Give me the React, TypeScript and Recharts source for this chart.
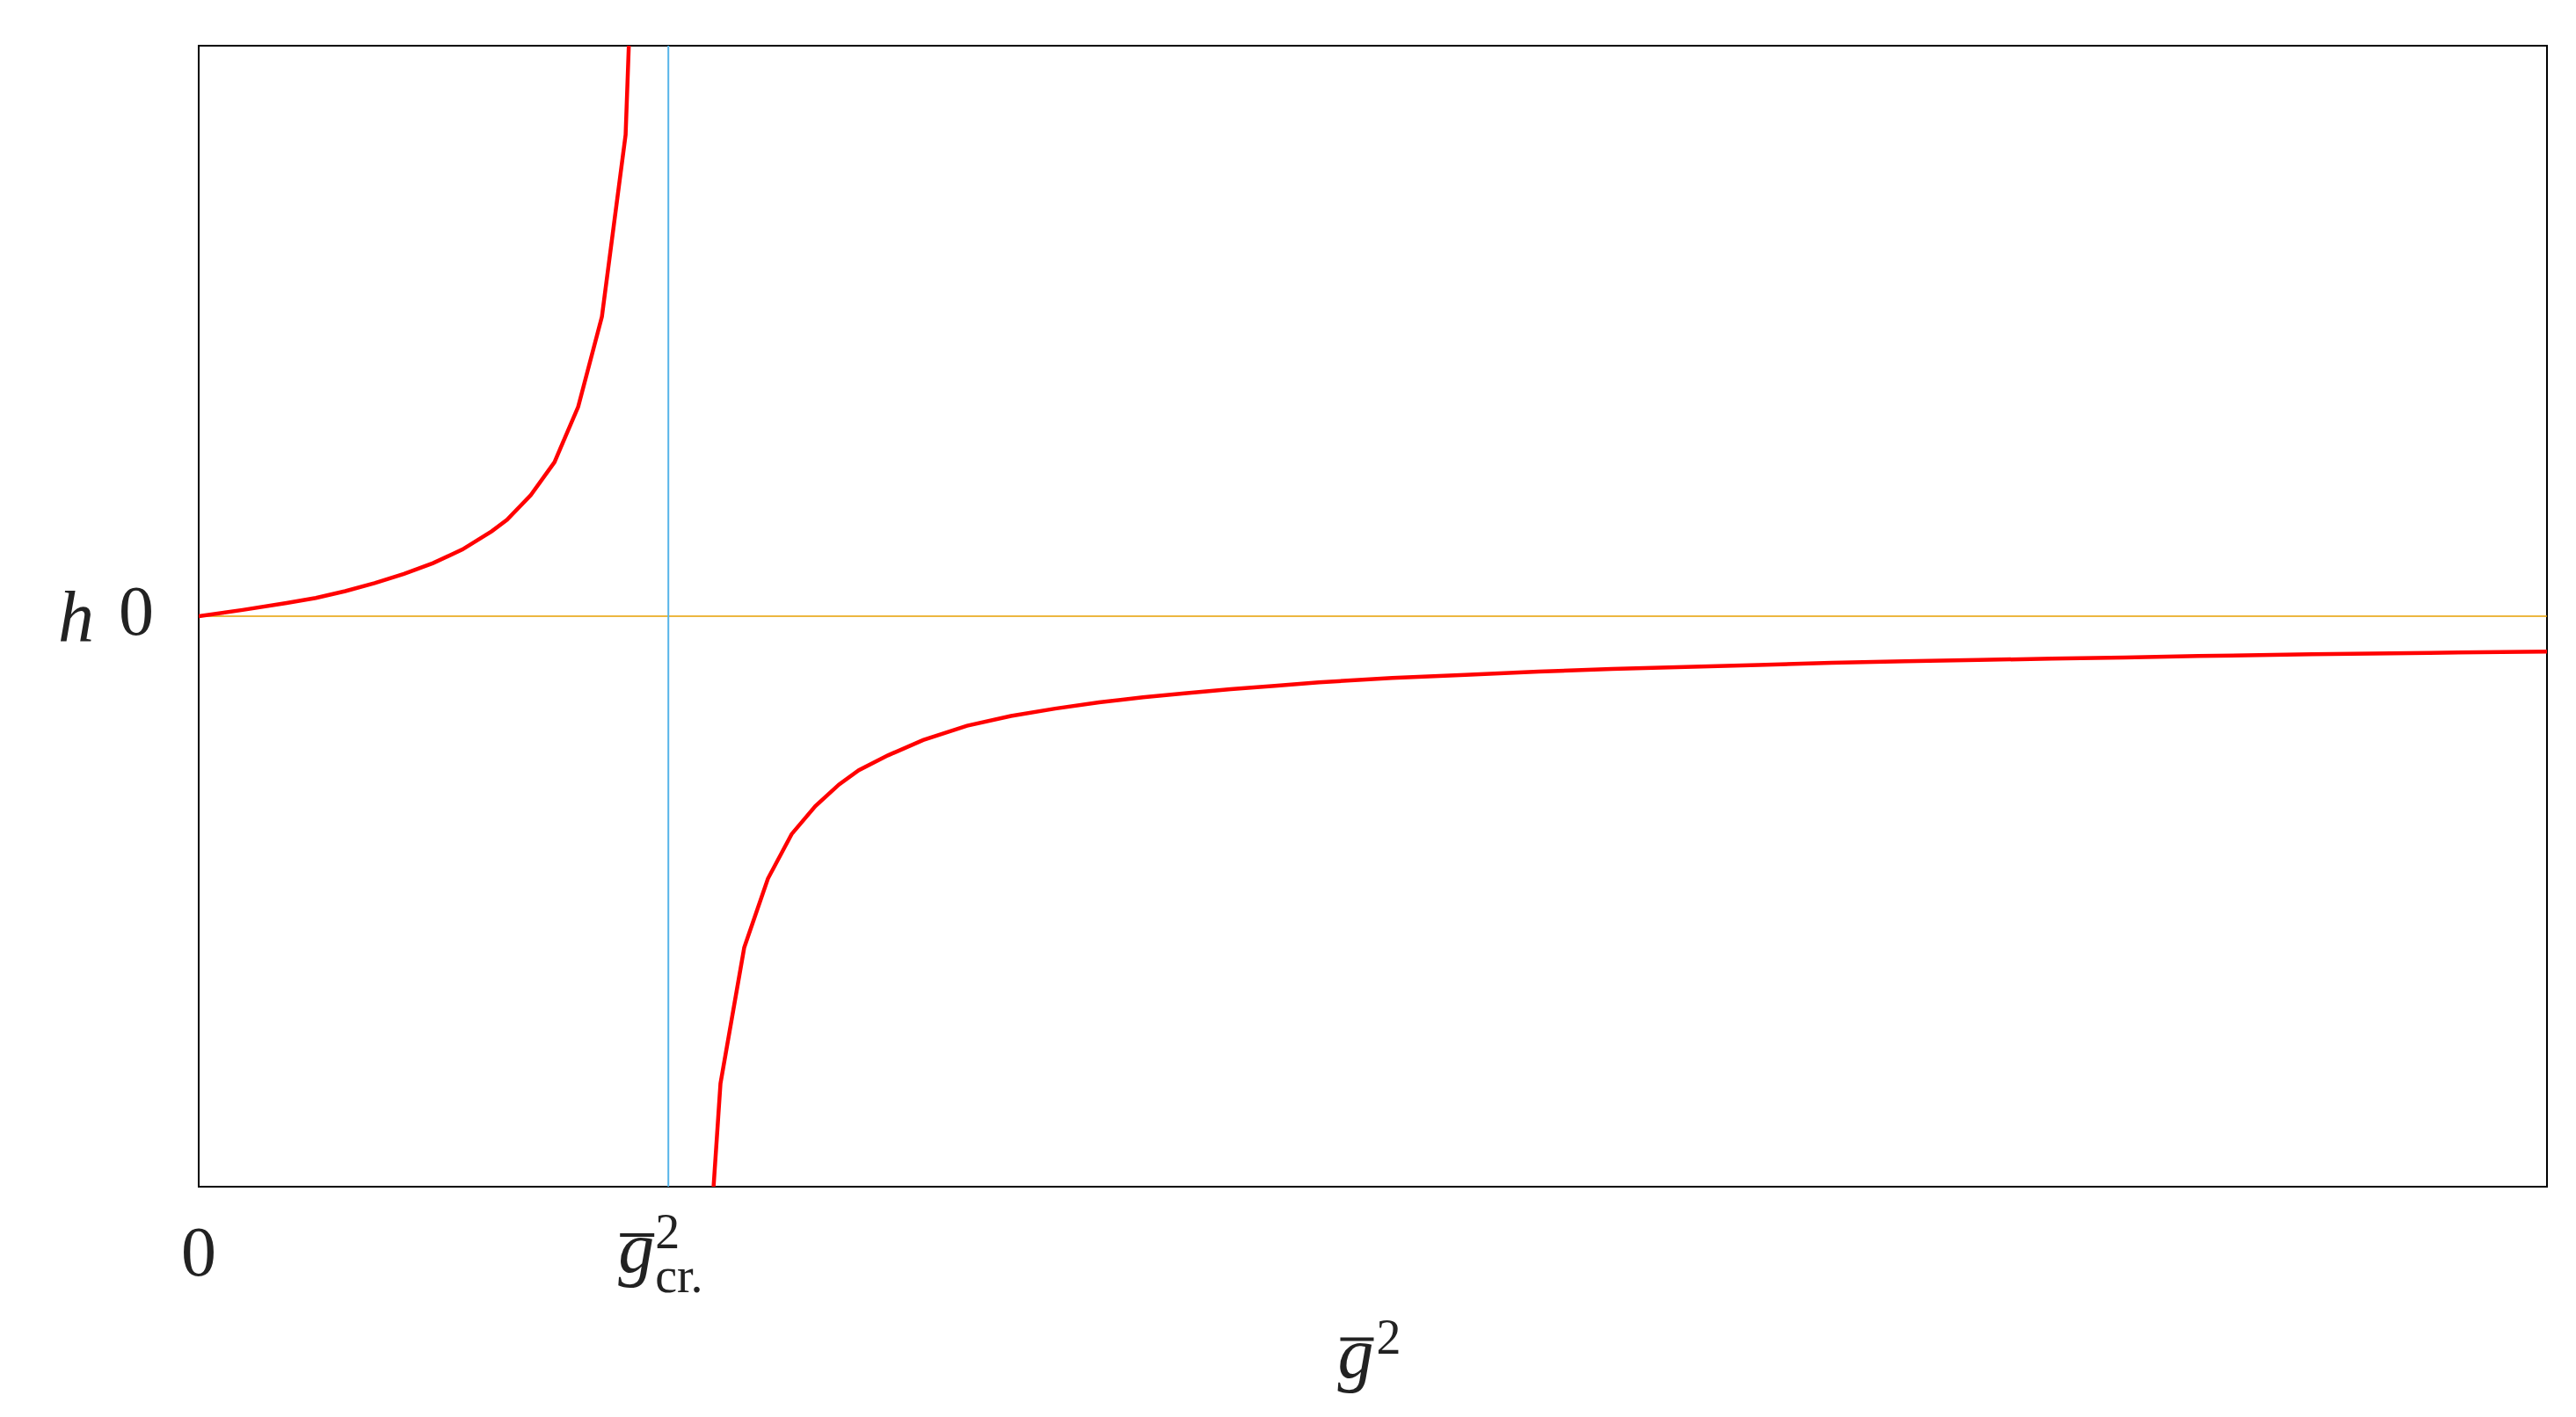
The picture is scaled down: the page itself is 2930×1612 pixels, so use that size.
import React from "react";
import { LineChart, Line, XAxis, YAxis, ReferenceLine, ReferenceArea, Label } from "recharts";

// Left branch (below the critical coupling)
const leftG = [0, 0.187, 0.374, 0.499, 0.624, 0.749, 0.874, 0.998, 1.123, 1.248, 1.313, 1.414, 1.515, 1.616, 1.717, 1.818, 1.919];
const leftH = [0, 0.011, 0.023, 0.032, 0.044, 0.058, 0.074, 0.093, 0.117, 0.149, 0.169, 0.212, 0.27, 0.367, 0.525, 0.844, 2.0];

// Right branch (above the critical coupling)
const rightG = [2.121, 2.222, 2.323, 2.424, 2.525, 2.626, 2.727, 2.811, 2.935, 3.085, 3.272, 3.459, 3.647, 3.834, 4.021, 4.208, 4.395, 4.582, 4.77, 5.082, 5.394, 5.706, 6.018, 6.33, 6.642, 6.954, 7.266, 7.578, 7.89, 8.202, 8.514, 9.0, 9.5, 10];
const rightH = [-1.44, -0.819, -0.581, -0.46, -0.382, -0.333, -0.295, -0.27, -0.244, -0.217, -0.192, -0.175, -0.162, -0.151, -0.142, -0.135, -0.128, -0.122, -0.116, -0.1083, -0.1027, -0.0971, -0.0925, -0.0889, -0.0855, -0.0817, -0.079, -0.0766, -0.0745, -0.0724, -0.0698, -0.0668, -0.0642, -0.062];

const xTicks = [0, 2];
const yTicks = [0];
const criticalG = 2;
const xDomain = [0, 10];
const yDomain = [-1, 1];

const leftBranch = leftG.map((g, i) => ({ g, h: leftH[i] }));
const rightBranch = rightG.map((g, i) => ({ g, h: rightH[i] }));

const FONT = "'Liberation Serif', 'DejaVu Serif', serif";
const INK = "#222";

const XTick = (props: any) => {
  const { x, y, payload } = props;
  if (payload.value === 0) {
    return (
      <text x={x} y={y + 101} textAnchor="middle" fontFamily={FONT} fontSize={80} fill={INK}>
        0
      </text>
    );
  }
  return (
    <g>
      <line x1={x - 55} x2={x - 16} y1={y + 55} y2={y + 55} stroke={INK} strokeWidth={4} />
      <text fontFamily={FONT} fill={INK}>
        <tspan x={x - 57} y={y + 97} fontStyle="italic" fontSize={82}>g</tspan>
        <tspan x={x - 15} y={y + 70} fontSize={56}>2</tspan>
        <tspan x={x - 15} y={y + 120} fontSize={56}>cr.</tspan>
      </text>
    </g>
  );
};

const YTick = (props: any) => {
  const { x, y } = props;
  return (
    <g>
      <text x={x - 160} y={y + 28} fontFamily={FONT} fontStyle="italic" fontSize={82} fill={INK}>
        h
      </text>
      <text x={x - 51} y={y + 21} textAnchor="end" fontFamily={FONT} fontSize={80} fill={INK}>
        0
      </text>
    </g>
  );
};

const XTitle = (props: any) => {
  const vb = props.viewBox || { x: 0, y: 0, width: 0 };
  const cx = vb.x + vb.width / 2;
  const y = vb.y;
  return (
    <g>
      <line x1={cx - 37} x2={cx + 1} y1={y + 173.5} y2={y + 173.5} stroke={INK} strokeWidth={4} />
      <text fontFamily={FONT} fill={INK}>
        <tspan x={cx - 40} y={y + 217} fontStyle="italic" fontSize={82}>g</tspan>
        <tspan x={cx + 4} y={y + 190} fontSize={56}>2</tspan>
      </text>
    </g>
  );
};

export default function App() {
  return (
    <LineChart width={2914} height={1590} margin={{ top: 44, right: 25, bottom: 148, left: 118 }}>
      <XAxis
        type="number"
        dataKey="g"
        domain={xDomain}
        ticks={xTicks}
        interval={0}
        allowDataOverflow
        axisLine={false}
        tickLine={false}
        tickSize={0}
        tickMargin={0}
        height={100}
        tick={(p: any) => <XTick {...p} />}
      >
        <Label content={(p: any) => <XTitle {...p} />} />
      </XAxis>
      <YAxis
        type="number"
        domain={yDomain}
        ticks={yTicks}
        allowDataOverflow
        axisLine={false}
        tickLine={false}
        tickSize={0}
        tickMargin={0}
        width={100}
        tick={(p: any) => <YTick {...p} />}
      />
      <ReferenceLine y={0} stroke="#E69F00" strokeWidth={1.7} />
      <ReferenceLine x={criticalG} stroke="#56B4E9" strokeWidth={2} />
      <Line data={leftBranch} dataKey="h" type="linear" stroke="#ff0000" strokeWidth={4.5} dot={false} activeDot={false} isAnimationActive={false} />
      <Line data={rightBranch} dataKey="h" type="linear" stroke="#ff0000" strokeWidth={4.5} dot={false} activeDot={false} isAnimationActive={false} />
      <ReferenceArea x1={xDomain[0]} x2={xDomain[1]} y1={yDomain[0]} y2={yDomain[1]} fill="none" fillOpacity={0} stroke="#000" strokeWidth={2} />
    </LineChart>
  );
}
